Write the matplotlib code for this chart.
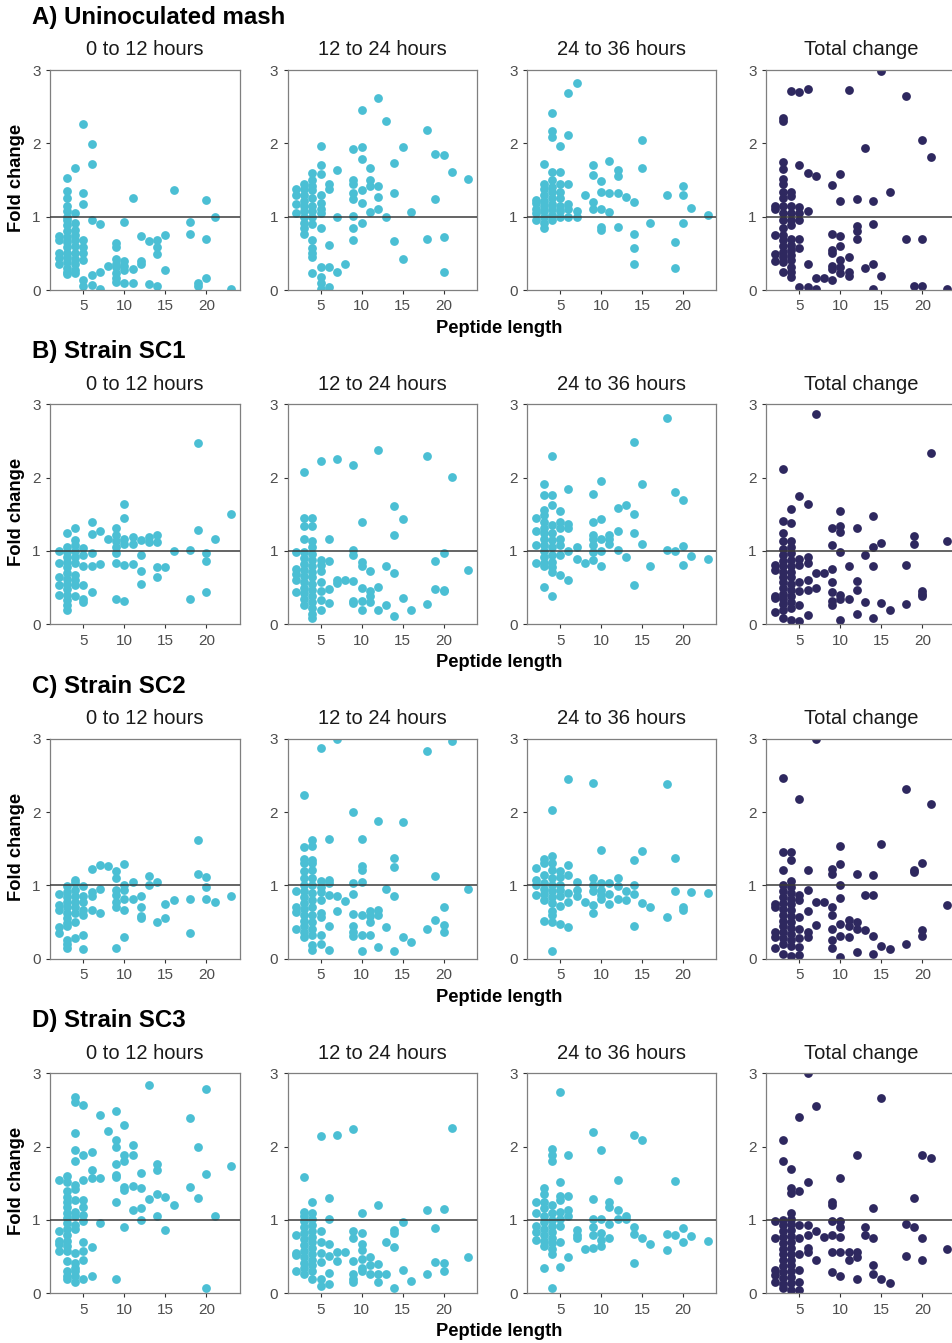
import matplotlib
matplotlib.use("Agg")
import matplotlib.pyplot as plt

plt.rcParams['font.family'] = ['Liberation Sans', 'DejaVu Sans']

# ---------------- data: {peptide length: [fold changes]} ----------------
A1 = {2: [0.73, 0.68, 0.5, 0.43, 0.36],
      3: [1.53, 1.35, 1.25, 1.14, 1.08, 1.0, 0.95, 0.88, 0.8, 0.72, 0.65, 0.58, 0.5, 0.45, 0.38, 0.3, 0.25, 0.22],
      4: [1.66, 1.05, 0.91, 0.82, 0.75, 0.68, 0.6, 0.5, 0.42, 0.36, 0.27, 0.23],
      5: [2.26, 1.32, 1.17, 0.68, 0.59, 0.5, 0.41, 0.14, 0.05],
      6: [1.99, 1.72, 0.95, 0.2, 0.07], 7: [0.9, 0.25, 0.01], 8: [0.33],
      9: [0.64, 0.58, 0.42, 0.35, 0.32, 0.23, 0.16, 0.11],
      10: [0.93, 0.4, 0.33, 0.27, 0.1], 11: [1.25, 0.28, 0.09], 12: [0.74, 0.39, 0.36],
      13: [0.67, 0.08], 14: [0.68, 0.58, 0.49, 0.05], 15: [0.75, 0.27], 16: [1.36],
      18: [0.93, 0.76], 19: [0.1, 0.05], 20: [1.23, 0.69, 0.17], 21: [1.0], 23: [0.02]}
A2 = {2: [1.38, 1.3, 1.17, 1.05],
      3: [1.45, 1.38, 1.3, 1.22, 1.15, 1.08, 1.0, 0.92, 0.85, 0.77],
      4: [1.59, 1.5, 1.42, 1.36, 1.25, 1.15, 1.08, 1.0, 0.9, 0.68, 0.57, 0.5, 0.45, 0.23],
      5: [1.97, 1.7, 1.58, 1.3, 1.18, 1.1, 1.05, 0.84, 0.32, 0.18, 0.09, 0.02],
      6: [1.45, 1.38, 0.62, 0.32, 0.04], 7: [1.63, 1.0, 0.24], 8: [0.35],
      9: [1.92, 1.5, 1.45, 1.32, 1.24, 1.01, 0.84, 0.68],
      10: [2.45, 1.95, 1.78, 1.36, 1.19, 0.91], 11: [1.67, 1.5, 1.42, 1.06],
      12: [2.62, 1.42, 1.27, 1.1], 13: [2.3, 1.0], 14: [1.73, 1.32, 0.67], 15: [1.95, 0.42],
      16: [1.07], 18: [2.18, 0.7], 19: [1.86, 1.24], 20: [1.84, 0.72, 0.24], 21: [1.61], 23: [1.52]}
A3 = {2: [1.23, 1.18, 1.1, 1.05, 0.95],
      3: [1.72, 1.45, 1.38, 1.3, 1.22, 1.15, 1.08, 1.0, 0.92, 0.84],
      4: [2.41, 2.17, 2.09, 1.61, 1.5, 1.41, 1.33, 1.25, 1.17, 1.1, 1.02, 0.96],
      5: [1.97, 1.61, 1.45, 1.34, 1.25, 1.15, 1.08, 1.0],
      6: [2.69, 2.11, 1.45, 1.17, 1.11, 1.0], 7: [2.82, 1.08, 1.0], 8: [1.29],
      9: [1.7, 1.57, 1.2, 1.1], 10: [1.48, 1.34, 1.11, 0.86, 0.82], 11: [1.76, 1.32, 1.06],
      12: [1.64, 1.55, 1.32, 0.86], 13: [1.27], 14: [1.2, 0.76, 0.57, 0.35], 15: [2.05, 1.67],
      16: [0.92], 18: [1.29], 19: [0.65, 0.3], 20: [1.42, 1.3, 0.92], 21: [1.12], 23: [1.02]}
A4 = {2: [1.15, 1.1, 0.75, 0.49, 0.39],
      3: [2.35, 2.31, 1.75, 1.65, 1.51, 1.45, 1.33, 1.25, 1.15, 1.05, 0.95, 0.85, 0.75, 0.68, 0.6, 0.52, 0.45, 0.38, 0.24],
      4: [2.72, 1.34, 1.28, 1.14, 1.05, 0.96, 0.88, 0.7, 0.62, 0.55, 0.48, 0.41, 0.32, 0.25, 0.18],
      5: [2.7, 1.7, 1.13, 1.05, 0.95, 0.7, 0.57, 0.04],
      6: [2.74, 1.59, 1.08, 0.35, 0.04], 7: [1.56, 0.17, 0.02], 8: [0.16],
      9: [1.43, 0.76, 0.54, 0.5, 0.33, 0.28, 0.13], 10: [1.58, 1.21, 0.73, 0.6, 0.41, 0.32, 0.23],
      11: [2.73, 0.45, 0.24, 0.19], 12: [1.24, 0.87, 0.81, 0.69], 13: [1.93, 0.3],
      14: [1.21, 0.9, 0.36, 0.02], 15: [2.99, 0.19], 16: [1.33], 18: [2.64, 0.69], 19: [0.05],
      20: [2.05, 0.7, 0.05], 21: [1.81], 23: [0.02]}

B1 = {2: [1.0, 0.83, 0.65, 0.53, 0.4],
      3: [1.25, 1.06, 0.99, 0.92, 0.85, 0.78, 0.7, 0.62, 0.55, 0.48, 0.4, 0.33, 0.26, 0.2],
      4: [1.32, 1.15, 1.08, 1.0, 0.92, 0.84, 0.67, 0.61, 0.54, 0.39],
      5: [1.04, 0.95, 0.79, 0.53, 0.35, 0.3], 6: [1.39, 1.23, 0.97, 0.79, 0.44],
      7: [1.27, 0.82], 8: [1.16], 9: [1.31, 1.22, 1.13, 1.05, 0.97, 0.84, 0.35],
      10: [1.64, 1.45, 1.17, 1.09, 0.81, 0.32], 11: [1.19, 1.09, 0.82], 12: [1.15, 0.94, 0.73, 0.55],
      13: [1.19, 1.12], 14: [1.22, 1.12, 0.78, 0.65], 15: [0.78], 16: [1.0], 18: [1.02, 0.35],
      19: [2.47, 1.29], 20: [0.97, 0.87, 0.44], 21: [1.16], 23: [1.5]}
B2 = {2: [0.98, 0.75, 0.68, 0.61, 0.44],
      3: [2.08, 1.45, 1.34, 1.17, 0.99, 0.9, 0.82, 0.74, 0.66, 0.58, 0.5, 0.43, 0.35, 0.27],
      4: [1.45, 1.34, 1.13, 1.05, 0.96, 0.88, 0.8, 0.72, 0.64, 0.55, 0.47, 0.38, 0.3, 0.22, 0.14, 0.09],
      5: [2.23, 0.88, 0.81, 0.73, 0.58, 0.45, 0.33, 0.2], 6: [1.17, 0.86, 0.48, 0.29],
      7: [2.25, 0.6, 0.56], 8: [0.6], 9: [2.17, 1.01, 0.95, 0.59, 0.32, 0.29],
      10: [1.4, 0.85, 0.8, 0.5, 0.32, 0.2], 11: [0.73, 0.45, 0.39, 0.31], 12: [2.38, 0.51, 0.2],
      13: [0.79, 0.27], 14: [1.61, 1.22, 0.7, 0.12], 15: [1.43, 0.36], 16: [0.2], 18: [2.3, 0.28],
      19: [0.87, 0.48], 20: [0.97, 0.47, 0.45], 21: [2.01], 23: [0.74]}
B3 = {2: [1.45, 1.27, 1.08, 0.84],
      3: [1.92, 1.76, 1.56, 1.49, 1.4, 1.32, 1.24, 1.16, 1.08, 1.0, 0.92, 0.84, 0.8, 0.51],
      4: [2.3, 1.76, 1.63, 1.35, 1.25, 1.15, 1.05, 0.95, 0.85, 0.78, 0.72, 0.39],
      5: [1.55, 1.4, 1.31, 1.17, 1.08, 0.95, 0.67], 6: [1.84, 1.37, 1.31, 1.0, 0.61],
      7: [1.05, 0.89], 8: [0.83], 9: [1.78, 1.4, 1.22, 1.16, 1.08, 0.98, 0.88],
      10: [1.96, 1.44, 1.16, 1.0, 0.79], 11: [1.22, 1.16, 1.1], 12: [1.58, 1.27, 1.01],
      13: [1.63, 0.92], 14: [2.48, 1.51, 1.25, 0.54], 15: [1.91, 1.1], 16: [0.79], 18: [2.81, 1.01],
      19: [1.8, 1.0], 20: [1.7, 1.07, 0.81], 21: [0.93], 23: [0.89]}
B4 = {2: [0.81, 0.74, 0.38, 0.36, 0.17],
      3: [2.12, 1.41, 1.24, 1.13, 1.03, 0.95, 0.87, 0.8, 0.72, 0.65, 0.58, 0.5, 0.42, 0.35, 0.28, 0.2, 0.08],
      4: [1.57, 1.38, 1.13, 1.06, 0.97, 0.88, 0.8, 0.72, 0.65, 0.55, 0.47, 0.38, 0.3, 0.22, 0.06],
      5: [1.75, 0.89, 0.81, 0.58, 0.45, 0.27, 0.05], 6: [1.64, 0.92, 0.83, 0.61, 0.47, 0.13],
      7: [2.87, 0.7, 0.5], 8: [0.7], 9: [1.31, 1.08, 0.76, 0.58, 0.44, 0.32, 0.27],
      10: [1.55, 1.34, 1.26, 0.98, 0.4, 0.35, 0.06], 11: [0.8, 0.35], 12: [1.31, 0.59, 0.47, 0.14],
      13: [0.94, 0.31], 14: [1.48, 1.05, 0.79, 0.09], 15: [1.11, 0.29], 16: [0.2], 18: [0.81, 0.28],
      19: [1.2, 1.1], 20: [0.46, 0.42, 0.39], 21: [2.34], 23: [1.13]}

C1 = {2: [0.88, 0.73, 0.67, 0.43, 0.35],
      3: [0.99, 0.91, 0.84, 0.77, 0.7, 0.63, 0.56, 0.49, 0.45, 0.26, 0.2, 0.15],
      4: [1.08, 1.03, 0.94, 0.86, 0.78, 0.7, 0.62, 0.5, 0.28],
      5: [0.99, 0.85, 0.78, 0.66, 0.6, 0.32, 0.13], 6: [1.22, 0.91, 0.85, 0.67],
      7: [1.28, 0.95, 0.63], 8: [1.26], 9: [1.19, 1.1, 0.94, 0.87, 0.78, 0.7, 0.15],
      10: [1.29, 1.0, 0.94, 0.82, 0.66, 0.3], 11: [1.04, 0.81], 12: [0.85, 0.71, 0.58, 0.55],
      13: [1.13, 1.0], 14: [1.04, 0.5], 15: [0.75, 0.56], 16: [0.8], 18: [0.82, 0.35],
      19: [1.62, 1.16], 20: [1.12, 0.98, 0.82], 21: [0.78], 23: [0.86]}
C2 = {2: [0.93, 0.71, 0.64, 0.4],
      3: [2.23, 1.53, 1.36, 1.3, 1.19, 1.1, 1.0, 0.92, 0.84, 0.76, 0.68, 0.6, 0.52, 0.44, 0.36, 0.29],
      4: [1.62, 1.54, 1.35, 1.3, 1.21, 1.1, 1.0, 0.9, 0.8, 0.7, 0.6, 0.5, 0.4, 0.32, 0.19, 0.12],
      5: [2.88, 1.06, 0.98, 0.91, 0.8, 0.62, 0.57, 0.32, 0.2], 6: [1.63, 1.07, 1.03, 0.87, 0.45, 0.12],
      7: [3.0, 0.86, 0.65], 8: [0.79], 9: [2.0, 1.03, 0.88, 0.61, 0.45, 0.37, 0.31],
      10: [1.63, 1.26, 1.21, 1.04, 0.6, 0.32, 0.1], 11: [0.65, 0.58, 0.5, 0.32],
      12: [1.88, 0.67, 0.6, 0.16], 13: [0.95, 0.43], 14: [1.38, 1.25, 0.85, 0.1], 15: [1.87, 0.3],
      16: [0.23], 18: [2.83, 0.41], 19: [1.13, 0.53], 20: [0.71, 0.46, 0.36], 21: [2.97], 23: [0.95]}
C3 = {2: [1.24, 1.07, 1.0, 0.87],
      3: [1.36, 1.3, 1.14, 1.03, 0.95, 0.88, 0.8, 0.52],
      4: [2.03, 1.4, 1.3, 1.21, 1.1, 1.0, 0.92, 0.84, 0.76, 0.65, 0.6, 0.5, 0.11],
      5: [1.2, 1.12, 1.0, 0.94, 0.85, 0.72, 0.48], 6: [2.45, 1.28, 1.14, 0.9, 0.78, 0.43],
      7: [1.05, 0.94, 0.85], 8: [0.78], 9: [2.4, 1.1, 1.0, 0.93, 0.73, 0.63],
      10: [1.48, 1.03, 0.94, 0.87, 0.81], 11: [1.03, 0.88, 0.75], 12: [1.1, 0.99, 0.81],
      13: [0.92, 0.8], 14: [1.35, 1.01, 0.88, 0.45], 15: [1.47, 0.76], 16: [0.7], 18: [2.38, 0.57],
      19: [1.37, 0.92], 20: [0.7, 0.66], 21: [0.91], 23: [0.89]}
C4 = {2: [0.75, 0.71, 0.37, 0.3, 0.14],
      3: [2.47, 1.46, 1.21, 1.0, 0.92, 0.84, 0.76, 0.68, 0.6, 0.52, 0.44, 0.36, 0.28, 0.2, 0.07],
      4: [1.46, 1.35, 1.06, 0.98, 0.9, 0.82, 0.74, 0.66, 0.58, 0.5, 0.42, 0.34, 0.26, 0.18, 0.04],
      5: [2.18, 0.87, 0.8, 0.57, 0.4, 0.28, 0.16, 0.05], 6: [1.21, 0.94, 0.65, 0.37, 0.3],
      7: [2.99, 0.78, 0.46], 8: [0.78], 9: [1.23, 1.15, 0.71, 0.6, 0.41, 0.25, 0.15],
      10: [1.54, 1.29, 1.0, 0.83, 0.47, 0.31, 0.03], 11: [0.53, 0.44, 0.3], 12: [1.15, 0.5, 0.41, 0.09],
      13: [0.87, 0.39], 14: [1.14, 0.87, 0.31, 0.06], 15: [1.57, 0.17], 16: [0.13], 18: [2.32, 0.2],
      19: [1.21, 1.18], 20: [1.31, 0.39, 0.31], 21: [2.11], 23: [0.73]}

D1 = {2: [1.55, 0.85, 0.71, 0.67, 0.58],
      3: [1.6, 1.52, 1.39, 1.32, 1.25, 1.18, 1.1, 1.03, 0.96, 0.88, 0.8, 0.72, 0.65, 0.58, 0.44, 0.3, 0.24, 0.2],
      4: [2.68, 2.61, 2.18, 1.95, 1.81, 1.48, 1.42, 1.27, 1.11, 1.05, 0.93, 0.88, 0.55, 0.41, 0.34, 0.3, 0.24, 0.15],
      5: [2.57, 1.89, 1.55, 1.27, 1.18, 1.07, 0.98, 0.7, 0.58, 0.45, 0.19],
      6: [1.93, 1.68, 1.57, 0.63, 0.24], 7: [2.43, 1.57, 0.96], 8: [2.22],
      9: [2.49, 2.09, 1.99, 1.76, 1.61, 1.58, 1.24, 0.2], 10: [2.29, 1.89, 1.8, 1.45, 1.41, 0.9],
      11: [2.02, 1.88, 1.47, 1.14], 12: [1.64, 1.43, 1.16, 1.0], 13: [2.84, 1.29],
      14: [1.76, 1.68, 1.35, 1.05], 15: [1.32, 0.86], 16: [1.2], 18: [2.39, 1.45], 19: [1.99, 1.3],
      20: [2.79, 1.63, 0.07], 21: [1.05], 23: [1.74]}
D2 = {2: [0.8, 0.55, 0.52, 0.31],
      3: [1.59, 1.11, 1.05, 0.98, 0.9, 0.82, 0.74, 0.66, 0.58, 0.5, 0.42, 0.35, 0.26],
      4: [1.24, 1.09, 1.02, 0.93, 0.85, 0.77, 0.7, 0.62, 0.54, 0.46, 0.38, 0.3, 0.2],
      5: [2.15, 0.85, 0.7, 0.55, 0.43, 0.2, 0.1], 6: [1.3, 1.02, 0.67, 0.51, 0.28, 0.13],
      7: [2.16, 0.57, 0.44], 8: [0.57], 9: [2.24, 0.85, 0.76, 0.44, 0.26, 0.2, 0.16],
      10: [1.1, 0.82, 0.67, 0.59, 0.47, 0.34, 0.3], 11: [0.5, 0.39, 0.26], 12: [1.21, 0.4, 0.27, 0.15],
      13: [0.7, 0.27], 14: [0.86, 0.82, 0.63, 0.07], 15: [0.97, 0.32], 16: [0.17], 18: [1.14, 0.26],
      19: [0.89, 0.43], 20: [1.15, 0.41, 0.31], 21: [2.25], 23: [0.49]}
D3 = {2: [1.24, 1.1, 0.92, 0.84, 0.73],
      3: [1.43, 1.35, 1.25, 1.16, 1.06, 0.97, 0.88, 0.8, 0.72, 0.65, 0.35],
      4: [1.97, 1.89, 1.8, 1.2, 1.09, 1.0, 0.92, 0.84, 0.76, 0.68, 0.6, 0.53, 0.07],
      5: [2.74, 1.52, 1.33, 1.27, 1.11, 1.02, 0.92, 0.7, 0.36], 6: [1.89, 1.33, 1.14, 1.05, 0.5],
      7: [0.86, 0.8, 0.75], 8: [0.6], 9: [2.2, 1.29, 1.02, 0.9, 0.8, 0.62],
      10: [1.95, 1.01, 0.82, 0.73, 0.65], 11: [1.24, 1.18, 0.95, 0.75], 12: [1.55, 1.14, 1.02],
      13: [1.06, 1.02], 14: [2.16, 0.9, 0.81, 0.42], 15: [2.09, 0.76], 16: [0.67], 18: [0.81, 0.59],
      19: [1.53, 0.79], 20: [0.89, 0.7], 21: [0.78], 23: [0.72]}
D4 = {2: [0.99, 0.76, 0.32, 0.25, 0.15],
      3: [2.09, 1.8, 1.0, 0.93, 0.85, 0.77, 0.69, 0.61, 0.53, 0.45, 0.37, 0.29, 0.21, 0.13, 0.07],
      4: [1.69, 1.43, 1.37, 1.09, 1.02, 0.94, 0.86, 0.78, 0.7, 0.62, 0.54, 0.46, 0.38, 0.3, 0.22, 0.14, 0.05],
      5: [2.4, 1.4, 0.93, 0.75, 0.53, 0.32, 0.15, 0.05], 6: [3.0, 1.52, 0.93, 0.8, 0.62, 0.57],
      7: [2.55, 0.85, 0.45], 8: [0.77], 9: [1.25, 1.2, 0.99, 0.8, 0.56, 0.29],
      10: [1.57, 0.99, 0.91, 0.77, 0.56, 0.23], 11: [0.56, 0.46], 12: [1.88, 0.57, 0.49, 0.2],
      13: [0.91, 0.8], 14: [1.17, 0.76, 0.38, 0.27], 15: [2.67, 0.2], 16: [0.14], 18: [0.95, 0.51],
      19: [1.3, 0.91], 20: [1.88, 0.75, 0.45], 21: [1.85], 23: [0.61]}

row_titles = ["A) Uninoculated mash", "B) Strain SC1", "C) Strain SC2", "D) Strain SC3"]
col_titles = ["0 to 12 hours", "12 to 24 hours", "24 to 36 hours", "Total change"]
panels = [[A1, A2, A3, A4], [B1, B2, B3, B4], [C1, C2, C3, C4], [D1, D2, D3, D4]]
x_ticks = [5, 10, 15, 20]
y_ticks = [0, 1, 2, 3]

CYAN = "#4BBFD4"
NAVY = "#2E285F"

# ---------------- layout (pixels) ----------------
W, H = 952, 1343
fig = plt.figure(figsize=(W / 100, H / 100), dpi=100)
lefts = [50.3, 287.5, 527.1, 766.3]
tops = [70.0, 404.3, 738.7, 1073.3]
pw, ph = 189.3, 220.0


def fx(px):
    return px / W


def fy(py):
    return 1 - py / H


for r in range(4):
    for c in range(4):
        d = panels[r][c]
        xs, ys = [], []
        for k, vals in d.items():
            for v in vals:
                xs.append(k)
                ys.append(v)
        ax = fig.add_axes([fx(lefts[c]), fy(tops[r] + ph), pw / W, ph / H])
        ax.scatter(xs, ys, s=40, color=NAVY if c == 3 else CYAN, linewidths=0, zorder=2)
        ax.axhline(1, color="#3a3a3a", lw=1.1, zorder=3)
        ax.set_xlim(0.95, 24.05)
        ax.set_ylim(0, 3)
        ax.set_xticks(x_ticks)
        ax.set_yticks(y_ticks)
        ax.tick_params(direction="out", length=2.6, width=0.8, color="#333333",
                       labelsize=11, labelcolor="#4d4d4d", pad=4.2)
        for sp in ax.spines.values():
            sp.set_color("#7f7f7f")
            sp.set_linewidth(0.9)
        ax.set_title(col_titles[c], fontsize=14.5, color="#1a1a1a", pad=10.5)
    # row title
    fig.text(fx(32), fy(tops[r] - 46), row_titles[r], fontsize=17.3, fontweight="bold",
             ha="left", va="baseline", color="black")
    # x label
    fig.text(fx(499), fy(tops[r] + ph + 43), "Peptide length", fontsize=13.2,
             fontweight="bold", ha="center", va="baseline", color="black")
    # y label
    fig.text(fx(17), fy(tops[r] + 108), "Fold change", fontsize=13.2, fontweight="bold",
             rotation=90, ha="center", va="center", color="black")

fig.savefig("out.png", dpi=100, facecolor="white")
